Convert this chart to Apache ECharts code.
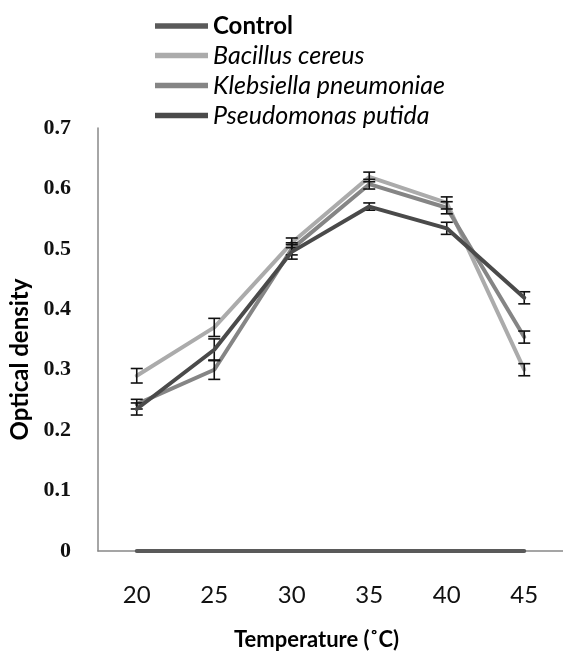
<!DOCTYPE html>
<html><head><meta charset="utf-8">
<script src="https://cdn.jsdelivr.net/npm/echarts@6/dist/echarts.min.js"></script>
<style>html,body{margin:0;padding:0;background:#fff}#c{width:563px;height:656px}</style>
</head><body><div id="c"></div>
<script>
var temperatures = ['20', '25', '30', '35', '40', '45'];
var seriesNames = ['Control', 'Bacillus cereus', 'Klebsiella pneumoniae', 'Pseudomonas putida'];
var control = [0, 0, 0, 0, 0, 0];
var controlErr = [0, 0, 0, 0, 0, 0];
var bacillus = [0.290, 0.370, 0.510, 0.619, 0.576, 0.300];
var bacillusErr = [0.012, 0.015, 0.008, 0.008, 0.010, 0.010];
var klebsiella = [0.243, 0.300, 0.500, 0.607, 0.568, 0.354];
var klebsiellaErr = [0.008, 0.016, 0.010, 0.008, 0.010, 0.010];
var pseudomonas = [0.235, 0.333, 0.495, 0.570, 0.534, 0.419];
var pseudomonasErr = [0.010, 0.018, 0.012, 0.006, 0.010, 0.010];
var yTicks = [0, 0.1, 0.2, 0.3, 0.4, 0.5, 0.6, 0.7];

var colors = ['#5a5a5a', '#ababab', '#858585', '#4a4a4a'];
var values = [control, bacillus, klebsiella, pseudomonas];
var errs = [controlErr, bacillusErr, klebsiellaErr, pseudomonasErr];

function errSeries(idx) {
  var data = temperatures.map(function (t, i) { return [i, values[idx][i], errs[idx][i]]; });
  return {
    type: 'custom', name: seriesNames[idx] + ' err', z: 5,
    data: data,
    renderItem: function (params, api) {
      var x = api.value(0), v = api.value(1), e = api.value(2);
      if (!e) return null;
      var hi = api.coord([x, v + e]), lo = api.coord([x, v - e]);
      var w = 6;
      var st = { stroke: '#111', lineWidth: 1.6 };
      return { type: 'group', children: [
        { type: 'line', shape: { x1: hi[0], y1: hi[1], x2: lo[0], y2: lo[1] }, style: st },
        { type: 'line', shape: { x1: hi[0] - w, y1: hi[1], x2: hi[0] + w, y2: hi[1] }, style: st },
        { type: 'line', shape: { x1: lo[0] - w, y1: lo[1], x2: lo[0] + w, y2: lo[1] }, style: st }
      ]};
    },
    silent: true
  };
}

var series = [];
var order = [0, 1, 2, 3];
order.forEach(function (i) {
  series.push({
    type: 'line', name: seriesNames[i], data: values[i],
    symbol: 'none', lineStyle: { color: colors[i], width: 4, cap: 'round' },
    itemStyle: { color: colors[i] }, z: 2 + i
  });
});
order.forEach(function (i) { series.push(errSeries(i)); });

var chart = echarts.init(document.getElementById('c'), null, { renderer: 'canvas' });
chart.setOption({
  animation: false,
  backgroundColor: '#fff',
  legend: {
    orient: 'vertical', left: 150, top: 9,
    data: seriesNames,
    itemWidth: 53, itemHeight: 12, itemGap: 5,
    icon: 'path://M0,0 L10,0 L10,1 L0,1 Z',
    formatter: function (n) { return n === 'Control' ? '{b|' + n + '}' : '{i|' + n + '}'; },
    textStyle: {
      rich: {
        b: { fontFamily: 'Lato', fontWeight: 'bold', fontSize: 24, color: '#000', lineHeight: 26 },
        i: { fontFamily: 'Lato', fontStyle: 'italic', fontSize: 25, color: '#000', lineHeight: 26 }
      }
    }
  },
  grid: { left: 90, top: 128, width: 482, height: 423 },
  xAxis: {
    type: 'category', data: temperatures, boundaryGap: true,
    axisLine: { lineStyle: { color: '#888', width: 1.5 } },
    axisTick: { show: false },
    axisLabel: { fontFamily: 'Lato', fontSize: 24, color: '#111', margin: 32 },
    name: 'Temperature (\u02DAC)', nameLocation: 'middle', nameGap: 78,
    nameTextStyle: { fontFamily: 'Lato', fontWeight: 'bold', fontSize: 22, color: '#000', padding: [0, 28, 0, 0] }
  },
  yAxis: {
    type: 'value', min: 0, max: 0.7, interval: 0.1,
    axisLine: { show: true, lineStyle: { color: '#888', width: 1.5 } },
    axisTick: { show: false },
    splitLine: { show: false },
    axisLabel: { fontFamily: 'Liberation Serif', fontWeight: 'bold', fontSize: 22, color: '#111', margin: 27,
      formatter: function (v) { return String(Math.round(v * 10) / 10); } },
    name: 'Optical density', nameLocation: 'middle', nameGap: 66, nameRotate: 90,
    nameTextStyle: { fontFamily: 'Lato', fontWeight: 'bold', fontSize: 24, color: '#000', padding: [0, 40, 0, 0] }
  },
  series: series
});
</script></body></html>
